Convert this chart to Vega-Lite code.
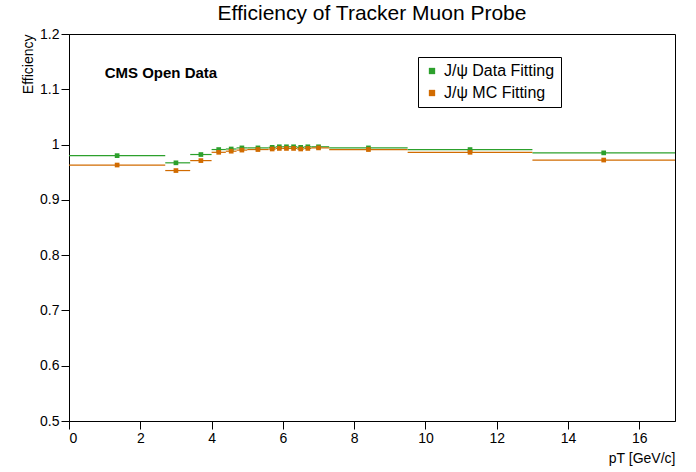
{
  "$schema": "https://vega.github.io/schema/vega-lite/v6.json",
  "width": 606,
  "height": 387,
  "autosize": "none",
  "padding": {"left": 69, "top": 34, "right": 21, "bottom": 51},
  "background": "white",
  "title": {"text": "Efficiency of Tracker Muon Probe", "font": "Liberation Sans", "fontSize": 21, "fontWeight": "normal", "offset": 3, "color": "black"},
  "config": {"view": {"stroke": "black", "strokeWidth": 1}, "font": "Liberation Sans"},
  "data": {"values": [
    {"s": "J/ψ Data Fitting", "x": 1.35, "lo": 0, "hi": 2.7, "y": 0.980},
    {"s": "J/ψ Data Fitting", "x": 3.0, "lo": 2.7, "hi": 3.4, "y": 0.967},
    {"s": "J/ψ Data Fitting", "x": 3.7, "lo": 3.4, "hi": 4.0, "y": 0.982},
    {"s": "J/ψ Data Fitting", "x": 4.2, "lo": 4.0, "hi": 4.4, "y": 0.991},
    {"s": "J/ψ Data Fitting", "x": 4.55, "lo": 4.4, "hi": 4.7, "y": 0.992},
    {"s": "J/ψ Data Fitting", "x": 4.85, "lo": 4.7, "hi": 5.0, "y": 0.994},
    {"s": "J/ψ Data Fitting", "x": 5.3, "lo": 5.0, "hi": 5.6, "y": 0.994},
    {"s": "J/ψ Data Fitting", "x": 5.7, "lo": 5.6, "hi": 5.8, "y": 0.995},
    {"s": "J/ψ Data Fitting", "x": 5.9, "lo": 5.8, "hi": 6.0, "y": 0.996},
    {"s": "J/ψ Data Fitting", "x": 6.1, "lo": 6.0, "hi": 6.2, "y": 0.996},
    {"s": "J/ψ Data Fitting", "x": 6.3, "lo": 6.2, "hi": 6.4, "y": 0.996},
    {"s": "J/ψ Data Fitting", "x": 6.5, "lo": 6.4, "hi": 6.6, "y": 0.995},
    {"s": "J/ψ Data Fitting", "x": 6.7, "lo": 6.6, "hi": 6.8, "y": 0.996},
    {"s": "J/ψ Data Fitting", "x": 7.0, "lo": 6.8, "hi": 7.3, "y": 0.996},
    {"s": "J/ψ Data Fitting", "x": 8.4, "lo": 7.3, "hi": 9.5, "y": 0.994},
    {"s": "J/ψ Data Fitting", "x": 11.25, "lo": 9.5, "hi": 13, "y": 0.991},
    {"s": "J/ψ Data Fitting", "x": 15, "lo": 13, "hi": 17, "y": 0.985},
    {"s": "J/ψ MC Fitting", "x": 1.35, "lo": 0, "hi": 2.7, "y": 0.963},
    {"s": "J/ψ MC Fitting", "x": 3.0, "lo": 2.7, "hi": 3.4, "y": 0.953},
    {"s": "J/ψ MC Fitting", "x": 3.7, "lo": 3.4, "hi": 4.0, "y": 0.971},
    {"s": "J/ψ MC Fitting", "x": 4.2, "lo": 4.0, "hi": 4.4, "y": 0.986},
    {"s": "J/ψ MC Fitting", "x": 4.55, "lo": 4.4, "hi": 4.7, "y": 0.988},
    {"s": "J/ψ MC Fitting", "x": 4.85, "lo": 4.7, "hi": 5.0, "y": 0.990},
    {"s": "J/ψ MC Fitting", "x": 5.3, "lo": 5.0, "hi": 5.6, "y": 0.991},
    {"s": "J/ψ MC Fitting", "x": 5.7, "lo": 5.6, "hi": 5.8, "y": 0.992},
    {"s": "J/ψ MC Fitting", "x": 5.9, "lo": 5.8, "hi": 6.0, "y": 0.993},
    {"s": "J/ψ MC Fitting", "x": 6.1, "lo": 6.0, "hi": 6.2, "y": 0.993},
    {"s": "J/ψ MC Fitting", "x": 6.3, "lo": 6.2, "hi": 6.4, "y": 0.993},
    {"s": "J/ψ MC Fitting", "x": 6.5, "lo": 6.4, "hi": 6.6, "y": 0.992},
    {"s": "J/ψ MC Fitting", "x": 6.7, "lo": 6.6, "hi": 6.8, "y": 0.993},
    {"s": "J/ψ MC Fitting", "x": 7.0, "lo": 6.8, "hi": 7.3, "y": 0.994},
    {"s": "J/ψ MC Fitting", "x": 8.4, "lo": 7.3, "hi": 9.5, "y": 0.991},
    {"s": "J/ψ MC Fitting", "x": 11.25, "lo": 9.5, "hi": 13, "y": 0.986},
    {"s": "J/ψ MC Fitting", "x": 15, "lo": 13, "hi": 17, "y": 0.972}
  ]},
  "layer": [
    {
      "mark": {"type": "rule", "strokeWidth": 1.2},
      "encoding": {
        "x": {"field": "lo", "type": "quantitative", "scale": {"domain": [0, 17], "nice": false, "zero": false}},
        "x2": {"field": "hi"},
        "y": {"field": "y", "type": "quantitative", "scale": {"domain": [0.5, 1.2], "nice": false, "zero": false}},
        "color": {"field": "s", "type": "nominal"}
      }
    },
    {
      "mark": {"type": "point", "shape": "square", "filled": true, "size": 22, "opacity": 1},
      "encoding": {
        "x": {"field": "x", "type": "quantitative", "scale": {"domain": [0, 17], "nice": false, "zero": false},
          "axis": {"title": "pT [GeV/c]", "titleAnchor": "end", "titleFontSize": 14, "titleFontWeight": "normal", "titleColor": "black", "titleY": 30,
            "values": [0, 2, 4, 6, 8, 10, 12, 14, 16], "labelFontSize": 14, "labelColor": "black", "grid": false, "domainColor": "black", "tickColor": "black", "tickSize": 8, "offset": 0}},
        "y": {"field": "y", "type": "quantitative", "scale": {"domain": [0.5, 1.2], "nice": false, "zero": false},
          "axis": {"title": "Efficiency", "titleAnchor": "end", "titleFontSize": 14, "titleFontWeight": "normal", "titleColor": "black",
            "values": [0.5, 0.6, 0.7, 0.8, 0.9, 1, 1.1, 1.2], "labelExpr": "datum.value == 1 ? '1' : format(datum.value, '.1f')", "labelFontSize": 14, "labelColor": "black", "grid": false, "domainColor": "black", "tickColor": "black", "tickSize": 8}},
        "color": {"field": "s", "type": "nominal", "scale": {"domain": ["J/ψ Data Fitting", "J/ψ MC Fitting"], "range": ["#2ca02c", "#d16b00"]},
          "legend": {"title": null, "orient": "none", "legendX": 349, "legendY": 23, "symbolType": "square", "symbolSize": 40, "symbolStrokeWidth": 0, "labelFontSize": 16, "labelColor": "black", "fillColor": "white", "strokeColor": "black", "padding": 6, "rowPadding": 6, "labelLimit": 300}}
      }
    },
    {
      "data": {"values": [{"t": "CMS Open Data", "x": 1, "y": 1.13}]},
      "mark": {"type": "text", "align": "left", "fontSize": 15, "fontWeight": "bold", "color": "black"},
      "encoding": {
        "x": {"field": "x", "type": "quantitative"},
        "y": {"field": "y", "type": "quantitative"},
        "text": {"field": "t"}
      }
    }
  ]
}
